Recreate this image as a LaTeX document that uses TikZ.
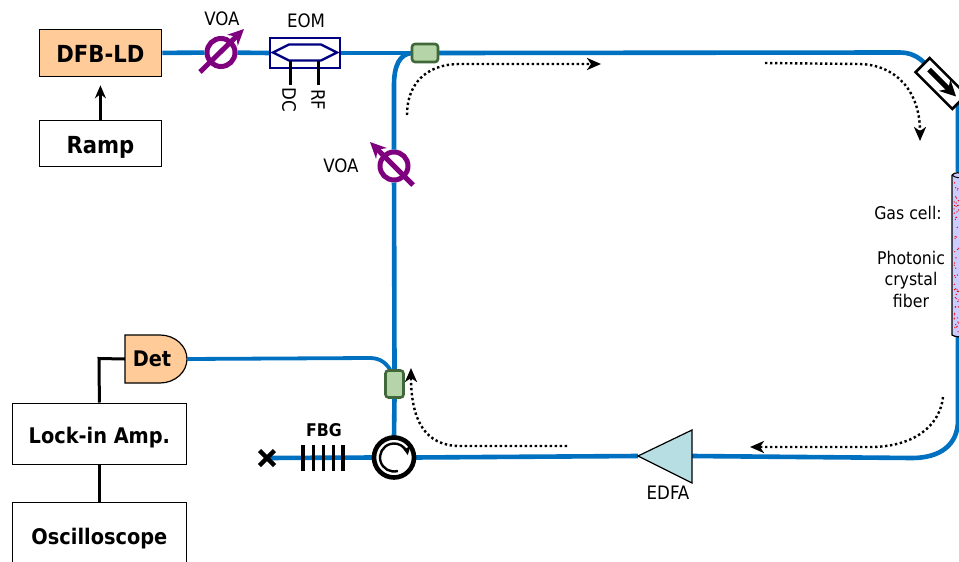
\documentclass[tikz,border=0pt]{standalone}
\usepackage{fontspec}
\setmainfont{DejaVu Sans Condensed}
\usetikzlibrary{arrows.meta,calc}
\definecolor{fib}{HTML}{0070C0}
\definecolor{peach}{HTML}{FFCC99}
\definecolor{cgreen}{HTML}{B5D5A8}
\definecolor{cedge}{HTML}{41683A}
\definecolor{voac}{HTML}{7F007F}
\definecolor{navyb}{HTML}{000080}
\definecolor{edfac}{HTML}{B7DEE2}
\definecolor{cellc}{HTML}{CCCCFF}
\tikzset{
  fiber/.style={draw=fib,line width=4.6pt},
  wire/.style={draw=black,line width=3pt},
  bigbox/.style={draw=black,line width=1.8pt,fill=white,font=\fontsize{23.5}{28}\selectfont\bfseries,inner sep=0pt,anchor=north west,text height=20pt,text depth=0pt},
  coupler/.style={draw=cedge,fill=cgreen,line width=2.6pt,rounded corners=3pt,inner sep=0pt},
  voaring/.style={circle,draw=voac,line width=5pt,minimum size=28pt,inner sep=0pt},
  voastrike/.style={draw=voac,line width=5pt,-{Stealth[length=16pt,width=15pt]}},
  lab/.style={font=\fontsize{18.5}{21.5}\selectfont,inner sep=0pt},
  flow/.style={draw=black,line width=2.4pt,dash pattern=on 2.4pt off 2.6pt,-{Stealth[length=14pt,width=12pt,inset=4pt]}},
}
\begin{document}
\begin{tikzpicture}[x=1pt,y=-1pt]
\useasboundingbox (0,0) rectangle (959,562);
\clip (0,0) rectangle (959,562);
% nodes
\node[bigbox,fill=peach,minimum width=122pt,minimum height=47pt] (dfb) at (38.5,28.5) {DFB-LD};
\node[bigbox,minimum width=122pt,minimum height=46pt] (ramp) at (38.5,119.5) {Ramp};
\node[bigbox,minimum width=174pt,minimum height=61pt,font=\fontsize{21.5}{26}\selectfont\bfseries] (lock) at (11.5,402.5) {Lock-in Amp.};
\node[bigbox,minimum width=174pt,minimum height=64pt,font=\fontsize{21.5}{26}\selectfont\bfseries] (osc) at (11.5,501.5) {Oscilloscope};
\node[voaring] (voaa) at (221,52.5) {};
\node[voaring] (voab) at (394,166) {};
\node[minimum width=70pt,minimum height=30pt,inner sep=0pt] (eom) at (305,53) {};
\node[minimum width=26pt,minimum height=18pt,inner sep=0pt] (ca) at (425,53) {};
\node[minimum width=18pt,minimum height=27pt,inner sep=0pt] (cb) at (394.5,384) {};
\node[circle,minimum size=40pt,inner sep=0pt] (circ) at (394,457.5) {};
\node[rotate=-45,minimum width=52pt,minimum height=20pt,inner sep=0pt] (iso) at (941,83.5) {};
\coordinate (xend) at (267,458);
\coordinate (edfatip) at (638,456);
\coordinate (edfatop) at (692,430);
\coordinate (edfabot) at (692,483);
\coordinate (edfaout) at (692,456);
\coordinate (celltop) at (958,172);
\coordinate (cellbot) at (958,336);
% fibers
\path[fiber] (dfb.east) -- (voaa);
\path[fiber] (voaa) -- (eom.west);
\path[fiber] (eom.east) -- (ca.west);
\path[fiber] (ca.east) -- (900,52.5) .. controls (915,52.5) and (925,60) .. (iso.center);
\path[fiber] (iso.center) -- (958,105) -- (celltop);
\path[fiber] (cellbot) -- (958,420) .. controls (958,445) and (940,458) .. (912,458) -- (edfaout);
\path[fiber] (edfatip) -- (circ.east);
\path[fiber] (circ.north) -- (cb.south);
\path[fiber] (cb.north) -- (voab);
\path[fiber] (voab) -- (394,85) .. controls (394,65) and (400,54) .. (ca.west);
\path[fiber] (xend) -- (circ.west);
% Det
\path[draw=black,line width=1.2pt,fill=peach] (125,335) -- (160,335) .. controls (175,335) and (187,346) .. (187,359) .. controls (187,372) and (175,383) .. (160,383) -- (125,383) -- cycle;
\node[minimum width=62pt,minimum height=48pt,inner sep=0pt,font=\fontsize{21.5}{26}\selectfont\bfseries] (det) at (156,359) {\hspace*{-8pt}Det};
\path[fiber,line width=3.8pt] (det.east) -- (370,358) .. controls (380,358) and (387,363) .. ($(cb.north)+(-3,2)$);
% boxes on top of fibers
\node[coupler,minimum width=26pt,minimum height=18pt] at (ca) {};
\node[coupler,minimum width=18pt,minimum height=27pt] at (cb) {};
\node[draw=black,line width=2.6pt,fill=white,rotate=-45,minimum width=52pt,minimum height=20pt,inner sep=0pt] at (iso) {};
\node[draw=navyb,line width=2.4pt,fill=white,minimum width=70pt,minimum height=30pt,inner sep=0pt] at (eom) {};
\node[circle,draw=black,line width=4.6pt,fill=white,minimum size=40pt,inner sep=0pt] at (circ) {};
% wires
\draw[wire,shorten >=8pt,-{Stealth[length=13pt,width=11pt]}] (ramp.north) -- (dfb.south);
\draw[wire] (det.west) -- (99,358.5) -- (lock.north);
\draw[wire] (lock.south) -- (osc.north);
% VOA strikes
\draw[voastrike] (200,72) -- (244,29);
\draw[voastrike] (413,185) -- (370,142);
% EOM internals
\draw[draw=navyb,line width=2.4pt] (273,52.5) -- (289,44.5) -- (321,44.5) -- (337,52.5) -- (321,60.5) -- (289,60.5) -- cycle;
\coordinate (dcstub) at (290,85); \coordinate (rfstub) at (318,85);
\draw[wire] (290,60.5) -- (dcstub);
\draw[wire] (318,60.5) -- (rfstub);
\node[lab,rotate=-90] (dc) at (289,100) {DC};
\node[lab,rotate=-90] (rf) at (318,100) {RF};
% isolator arrow
\draw[line width=5pt,-{Stealth[length=16pt,width=16pt]}] ($(iso)+(-12,-14)$) -- ($(iso)+(15,13)$);
% FBG
\foreach \x in {303,313.5,323.5,333.5,343}{\draw[line width=3.6pt] (\x,445) -- (\x,471);}
\node[inner sep=0pt,font=\fontsize{17.5}{21}\selectfont\bfseries] (fbg) at (324,430) {FBG};
\draw[line width=4.5pt] ($(xend)+(-7.5,-7.5)$) -- ($(xend)+(7.5,7.5)$) ($(xend)+(-7.5,7.5)$) -- ($(xend)+(7.5,-7.5)$);
% circulator arrow
\draw[line width=2.4pt,-{Stealth[length=10pt,width=10pt]}] (circ.center) ++(74:14) arc[start angle=74,end angle=350,radius=14];
% EDFA
\draw[line width=1.2pt,fill=edfac] (edfatip) -- (edfatop) -- (edfabot) -- cycle;
\node[lab] (edfa) at (668,493) {EDFA};
% gas cell
\path[draw=black,line width=1.2pt,fill=cellc] (952,175) -- (952,335) .. controls (955,337) and (960,337) .. (965,337) -- (965,175) .. controls (960,172) and (955,172) .. (952,175);
\draw[black,line width=1pt] (952,175) .. controls (955,178) and (960,178) .. (965,178);
\pgfmathsetseed{7}
\foreach \i in {1,...,60}{
  \pgfmathsetmacro{\dx}{954+5*rnd}
  \pgfmathsetmacro{\dy}{180+152*rnd}
  \fill[red] (\dx,\dy) circle (0.7);
}
% labels
\node[lab] (voala) at (222,19) {VOA};
\node[lab] (eoml) at (306,21) {EOM};
\node[lab] (voalb) at (341,166) {VOA};
\node[lab,font=\fontsize{17.5}{21.5}\selectfont] (gasl) at (908,213) {Gas cell:};
\node[lab,align=center,font=\fontsize{17.5}{21.5}\selectfont] (pcf) at (911,279) {Photonic\\crystal\\fiber};
% dotted flow arrows
\draw[flow] (407,115) .. controls (407,85) and (425,64) .. (460,64) -- (601,64);
\draw[flow] (765,63) -- (860,64) .. controls (895,65) and (920,90) .. (920,141);
\draw[flow] (943,397) .. controls (940,425) and (915,447) .. (870,447) -- (750,447);
\draw[flow] (567,446) -- (460,446) .. controls (425,446) and (411,420) .. (411,368);
\end{tikzpicture}
\end{document}
